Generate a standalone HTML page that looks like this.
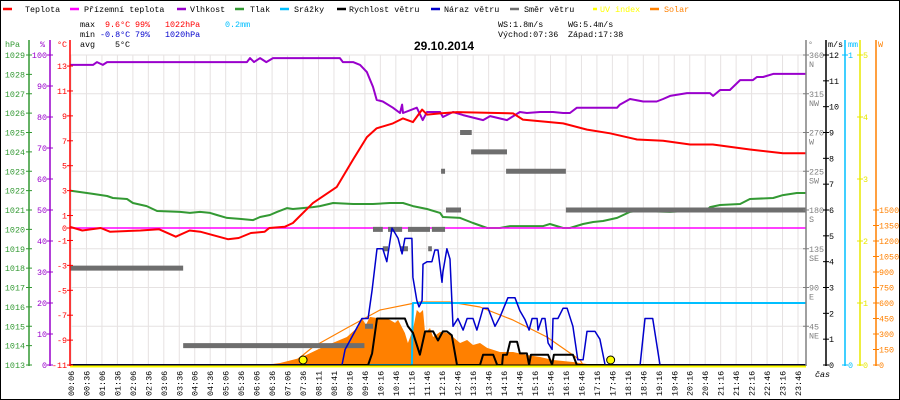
<!DOCTYPE html>
<html><head><meta charset="utf-8">
<style>
html,body{margin:0;padding:0;background:#fff;}
svg{display:block;}
text{font-family:"Liberation Mono",monospace;font-size:8.4px;}
</style></head>
<body>
<svg id="chart" width="900" height="400" viewBox="0 0 900 400" xmlns="http://www.w3.org/2000/svg">
<rect x="0.5" y="0.5" width="899" height="399" fill="#fff" stroke="#000"/>
<g id="grid"></g>
<g id="series"></g>
<g id="axes"></g>
<g id="legend"></g>
<g>
<text x="80" y="27" fill="#000">max</text>
<text x="105" y="27" fill="#f00">9.6°C</text>
<text x="135" y="27" fill="#f00">99%</text>
<text x="165" y="27" fill="#f00">1022hPa</text>
<text x="225" y="27" fill="#00bfff">0.2mm</text>
<text x="80" y="37" fill="#000">min</text>
<text x="100" y="37" fill="#00c">-0.8°C</text>
<text x="135" y="37" fill="#00c">79%</text>
<text x="165" y="37" fill="#00c">1020hPa</text>
<text x="80" y="47" fill="#000">avg</text>
<text x="115" y="47" fill="#000">5°C</text>
<text x="498" y="27" fill="#000">WS:1.8m/s</text>
<text x="568" y="27" fill="#000">WG:5.4m/s</text>
<text x="498" y="37" fill="#000">Východ:07:36</text>
<text x="568" y="37" fill="#000">Západ:17:38</text>
<text x="414" y="50" fill="#000" style="font-family:'Liberation Sans',sans-serif;font-size:12px;font-weight:bold">29.10.2014</text>
</g>
</svg>
<script>
// ---- data (hours, value) ----
const tempT=[0,0.4,1.0,1.3,2.3,2.9,3.45,3.9,4.25,5.15,5.5,5.9,6.35,6.5,7.0,7.27,7.92,8.7,9.23,9.68,10.0,10.53,10.86,11.18,11.48,11.64,12.07,12.62,14.45,14.77,16.08,16.86,17.61,18.49,19.34,20.22,20.96,22.17,23.25,24];
const tempV=[0.1,-0.2,0.0,-0.3,-0.2,-0.1,-0.7,-0.2,-0.3,-0.9,-0.8,-0.4,-0.3,0.0,0.1,0.4,2.0,3.3,5.5,7.3,8.0,8.4,8.8,8.5,9.5,9.1,9.2,9.3,9.2,8.7,8.4,7.9,7.6,7.1,7.0,6.7,6.7,6.3,6.0,6.0];
const appT=[0,24];
const appV=[0,0];
const humT=[0,0.75,0.88,1.07,1.21,5.77,5.87,6.0,6.2,6.4,6.62,8.8,8.9,9.23,9.46,9.68,9.88,10.0,10.2,10.53,10.76,10.83,10.86,11.31,11.5,11.64,12.07,12.16,12.49,12.82,13.47,13.7,14.25,14.67,14.9,15.33,15.75,16.08,16.3,16.53,17.84,17.93,18.26,18.69,19.13,19.34,19.57,20.12,20.87,20.97,21.2,21.52,21.85,22.27,22.4,22.6,22.93,24];
const humV=[96.8,96.8,97.7,96.8,97.7,97.7,99,97.7,99,97.7,99,99,97.7,97.7,96.8,94.5,89.7,85.5,85,83,81.3,84,81.3,83,79,81.6,81.6,80,81.6,80.6,79,80.3,79,81.6,81.3,81.6,81.6,81.3,81.3,83,83,84,85.8,85,85,85.8,86.8,87.7,87.7,86.8,88.7,88.7,91.9,91.9,92.9,92.9,93.9,93.9];
const presT=[0,0.55,0.75,1.21,1.4,1.86,2.05,2.5,2.84,3.59,3.91,4.24,4.57,4.79,5.12,5.54,5.97,6.2,6.52,6.75,7.08,7.27,7.92,8.15,8.58,9.23,9.88,10.43,10.86,11.18,11.64,12.07,12.16,12.72,13.14,13.6,14.02,14.35,15.0,15.43,15.65,16.08,16.3,16.73,17.06,17.38,17.84,18.26,18.49,19.57,20.77,20.87,21.2,21.85,22.17,22.93,23.25,23.7,24];
const presV=[1022.0,1021.88,1021.83,1021.72,1021.62,1021.57,1021.36,1021.2,1020.95,1020.9,1020.85,1020.9,1020.85,1020.74,1020.59,1020.54,1020.48,1020.64,1020.74,1020.9,1021.1,1021.05,1021.15,1021.2,1021.36,1021.31,1021.31,1021.36,1021.36,1021.2,1021.05,1020.85,1020.64,1020.59,1020.33,1020.07,1020.07,1020.17,1020.17,1020.17,1020.28,1020.07,1020.07,1020.28,1020.38,1020.43,1020.59,1020.9,1020.95,1020.9,1021.0,1021.15,1021.26,1021.31,1021.57,1021.62,1021.77,1021.88,1021.88];
const rainT=[0,11.15,11.18,24];
const rainV=[0,0,0.2,0.2];
const dirStart=[0,3.69,9.62,9.88,10.2,10.37,10.76,11.02,11.68,11.8,12.1,12.26,12.72,13.08,14.22,16.17];
const dirEnd=[3.69,9.6,9.88,10.2,10.37,10.83,11.02,11.74,11.8,12.23,12.23,12.75,13.1,14.25,16.17,24];
const dirDeg=[112.5,22.5,45,157.5,135,157.5,135,157.5,135,157.5,225,180,270,247.5,225,180];
const gustT=[0,8.87,8.97,9.52,9.72,9.85,10.01,10.2,10.33,10.5,10.6,10.7,10.83,10.92,11.15,11.18,11.31,11.38,11.48,11.51,11.64,11.8,11.9,12.0,12.13,12.16,12.29,12.39,12.49,12.65,12.82,12.95,13.14,13.27,13.47,13.63,13.76,13.86,14.02,14.28,14.51,14.67,14.84,14.97,15.07,15.23,15.26,15.39,15.49,15.59,15.72,15.75,15.91,16.08,16.21,16.4,16.56,16.73,16.86,17.12,17.28,17.45,18.59,18.75,19.0,19.24,24];
const gustV=[0,0,0.6,1.8,1.8,2.9,4.5,4.5,4.0,5.3,5.1,4.9,4.3,4.9,4.9,3.4,2.5,2.25,2.5,3.9,4.0,4.0,4.45,4.45,3.2,3.6,4.5,4.1,1.5,1.8,1.35,1.8,1.8,1.35,2.2,2.2,1.8,1.5,1.85,2.6,2.6,2.1,1.75,1.35,1.8,1.8,1.35,1.8,1.8,0.85,0.6,1.8,1.8,2.2,2.2,1.5,0.2,0.2,1.3,1.3,1.0,0,0,1.8,1.8,0,0];
const windT=[0,9.72,9.85,10.01,10.92,11.02,11.18,11.41,11.58,11.84,12.0,12.16,12.29,12.45,12.62,13.37,13.47,13.8,13.93,14.09,14.12,14.25,14.35,14.58,14.67,14.9,14.97,15.03,15.59,15.72,15.78,16.4,16.53,24];
const windV=[0,0,0.45,1.8,1.8,1.5,1.25,0.4,1.3,1.3,0.95,1.3,1.3,1.15,0,0,0.4,0.4,0,0,0.4,0.4,0.9,0.9,0.45,0.45,0,0.4,0.4,0,0.4,0.4,0,0];
const solarT=[6.6,6.85,7.5,8.25,9.03,9.39,9.52,9.65,9.78,10.01,10.2,10.43,10.6,10.7,10.92,11.02,11.18,11.31,11.41,11.51,11.58,11.74,11.84,12.07,12.29,12.49,12.72,12.95,13.14,13.37,13.6,14.02,14.45,14.9,15.33,15.75,16.4,16.86,17.0];
const solarV=[10,19,68,174,271,368,455,387,465,455,455,436,407,436,310,213,339,532,503,532,310,358,271,320,310,271,213,242,194,213,165,126,126,97,77,48,29,10,0];
const theoT=[7.2,7.92,9.03,10.11,11.41,12.39,13.37,14.45,15.55,16.63,16.73];
const theoV=[0,174,358,532,610,610,561,435,271,48,0];
const uvT=[0,24];
const uvV=[0,0];
const sunEvents=[7.6,17.63];
const timeLabels=["00:06","00:36","01:06","01:36","02:06","02:36","03:06","03:36","04:06","04:36","05:06","05:36","06:06","06:36","07:06","07:36","08:11","08:41","09:16","09:46","10:16","10:46","11:16","11:46","12:16","12:46","13:16","13:46","14:16","14:46","15:16","15:46","16:16","16:46","17:16","17:46","18:16","18:46","19:16","19:46","20:16","20:46","21:16","21:46","22:16","22:46","23:16","23:46"];
const hpaTicks=[1013,1014,1015,1016,1017,1018,1019,1020,1021,1022,1023,1024,1025,1026,1027,1028,1029];
const humTicks=[0,10,20,30,40,50,60,70,80,90,100];
const tempTicks=[13,11,9,7,5,3,1,0,-1,-3,-5,-7,-9,-11];
const dirTicks=[45,90,135,180,225,270,315,360];
const dirNames=["NE","E","SE","S","SW","W","NW","N"];
const msTicks=[0,1,2,3,4,5,6,7,8,9,10,11,12];
const mmTicks=[0,1];
const uvTicks=[0,1,2,3,4,5];
const wTicks=[0,150,300,450,600,750,900,1050,1200,1350,1500];

// ---- scales ----
const X0=70,X1=806,YB=365,YTOP=55;
const xS=h=>X0+h*(X1-X0)/24;
const yT=t=>228-t*12.458;
const yH=p=>YB-p*3.1;
const yP=p=>YB-(p-1013)*19.375;
const yV=v=>YB-v*310/12;
const yD=d=>YB-d*310/360;
const yR=m=>YB-m*310;
const yW=w=>YB-w*155/1500;
const yU=u=>YB-u*62;

const NS="http://www.w3.org/2000/svg";
function mk(parent,tag,attrs){const e=document.createElementNS(NS,tag);for(const k in attrs)e.setAttribute(k,attrs[k]);parent.appendChild(e);return e;}
const grid=document.getElementById('grid'),ser=document.getElementById('series'),axes=document.getElementById('axes'),leg=document.getElementById('legend');

// grid
const gx0=71,gx1=798;
timeLabels.forEach((lab,i)=>{
  const x=gx0+i*(gx1-gx0)/(timeLabels.length-1);
  const l=mk(grid,'line',{x1:x,y1:YTOP,x2:x,y2:YB,stroke:'#e6e2e2','stroke-width':1});
  
  
  const t=mk(axes,'text',{transform:`translate(${x+3},396) rotate(-90)`,fill:'#000','font-size':'8px'});
  t.textContent=lab;
  
  
});
dirTicks.forEach(d=>{
  const y=yD(d);
  const l=mk(grid,'line',{x1:X0,y1:y,x2:X1,y2:y,stroke:'#e6e2e2','stroke-width':1});
  
  
});

function pts(T,V,ys){return T.map((t,i)=>xS(t).toFixed(1)+','+ys(V[i]).toFixed(1)).join(' ');}
function line(T,V,ys,color,w,name){
  const p=mk(ser,'polyline',{points:pts(T,V,ys),fill:'none',stroke:color,'stroke-width':w,'stroke-linejoin':'round'});
  
  
  return p;
}
// solar area
{
  const p=mk(ser,'polygon',{points:xS(solarT[0])+','+YB+' '+pts(solarT,solarV,yW)+' '+xS(solarT[solarT.length-1])+','+YB,fill:'#ff8000',stroke:'none'});
  
  
}
line(theoT,theoV,yW,'#ff8000',1.2,'solar-theoretical-line');
line(rainT,rainV,yR,'#00bfff',2,'rain-line');
line(presT,presV,yP,'#339933',2,'pressure-line');
line(humT,humV,yH,'#9900cc',2,'humidity-line');
line(appT,appV,yT,'#ff00ff',1.5,'apparent-temp-line');
line(tempT,tempV,yT,'#ff0000',2,'temperature-line');
dirDeg.forEach((d,i)=>{
  const r=mk(ser,'rect',{x:xS(dirStart[i]),y:yD(d)-2.5,width:Math.max(2,xS(dirEnd[i])-xS(dirStart[i])),height:5,fill:'#6e6e6e'});
  
  
});
line(windT,windV,yV,'#000',2,'wind-speed-line');
line(gustT,gustV,yV,'#0000cc',1.5,'wind-gust-line');
{
  const b=mk(ser,'line',{x1:X0,y1:YB,x2:X1,y2:YB,stroke:'#000','stroke-width':1});
  
  
}
line(uvT,uvV,u=>yU(u)+1.5,'#ffff00',2,'uv-index-line');
sunEvents.forEach(h=>{
  const c=mk(ser,'circle',{cx:xS(h),cy:YB-5,r:4,fill:'#ffff00',stroke:'#000','stroke-width':1});
  
  
});

// axes
function axis(x,color,ticks,ys,labelX,anchor,name){
  const a=mk(axes,'line',{x1:x,y1:40,x2:x,y2:366,stroke:color,'stroke-width':1.5});
  
  
  ticks.forEach(v=>{
    const y=ys(v);
    mk(axes,'line',{x1:x-3,y1:y,x2:x+3,y2:y,stroke:color,'stroke-width':1});
    const t=mk(axes,'text',{x:labelX,y:y+3,fill:color,'text-anchor':anchor});
    t.textContent=String(v);
    
    
  });
}
axis(29,'#339933',hpaTicks,yP,25,'end','pressure-axis');
axis(50,'#9900cc',humTicks,yH,47,'end','humidity-axis');
axis(70,'#ff0000',tempTicks,yT,67,'end','temperature-axis');
axis(806,'#808080',dirTicks,yD,809,'start','direction-axis');
dirTicks.forEach((d,i)=>{
  const t=mk(axes,'text',{x:809,y:yD(d)+12,fill:'#808080'});
  t.textContent=dirNames[i];
  
  
});
axis(826,'#000',msTicks,yV,829,'start','wind-speed-axis');
axis(845,'#00bfff',mmTicks,yR,848,'start','rain-axis');
axis(860,'#e8e800',uvTicks,yU,863,'start','uv-axis');
axis(876,'#ff8000',wTicks,yW,879,'start','solar-axis');
[['hPa',5,'#339933'],['%',40,'#9900cc'],['°C',57,'#ff0000'],['°',808,'#808080'],['m/s',828,'#000'],['mm',848,'#00bfff'],['W',878,'#ff8000']].forEach(u=>{
  const t=mk(axes,'text',{x:u[1],y:47,fill:u[2]});
  t.textContent=u[0];
  
  
});
{
  const t=mk(axes,'text',{x:815,y:377,fill:'#000','font-style':'italic'});
  t.textContent='čas';
  
  
}

// legend
[['Teplota','#ff0000',3,9,25,'#000'],['Přízemní teplota','#ff00ff',70,9,84,'#000'],['Vlhkost','#9900cc',177,9,190,'#000'],['Tlak','#339933',235,9,250,'#000'],['Srážky','#00bfff',280,9,294,'#000'],['Rychlost větru','#000',337,9,349,'#000'],['Náraz větru','#0000cc',431,9,444,'#000'],['Směr větru','#707070',510,9,524,'#000'],['UV index','#ffff00',593,4,600,'#ffff00'],['Solar','#ff8000',650,9,664,'#ff8000']].forEach(e=>{
  mk(leg,'line',{x1:e[2],y1:9,x2:e[2]+e[3],y2:9,stroke:e[1],'stroke-width':2.5});
  const t=mk(leg,'text',{x:e[4],y:12,fill:e[5]});
  t.textContent=e[0];
  
  
});
</script>
</body></html>
